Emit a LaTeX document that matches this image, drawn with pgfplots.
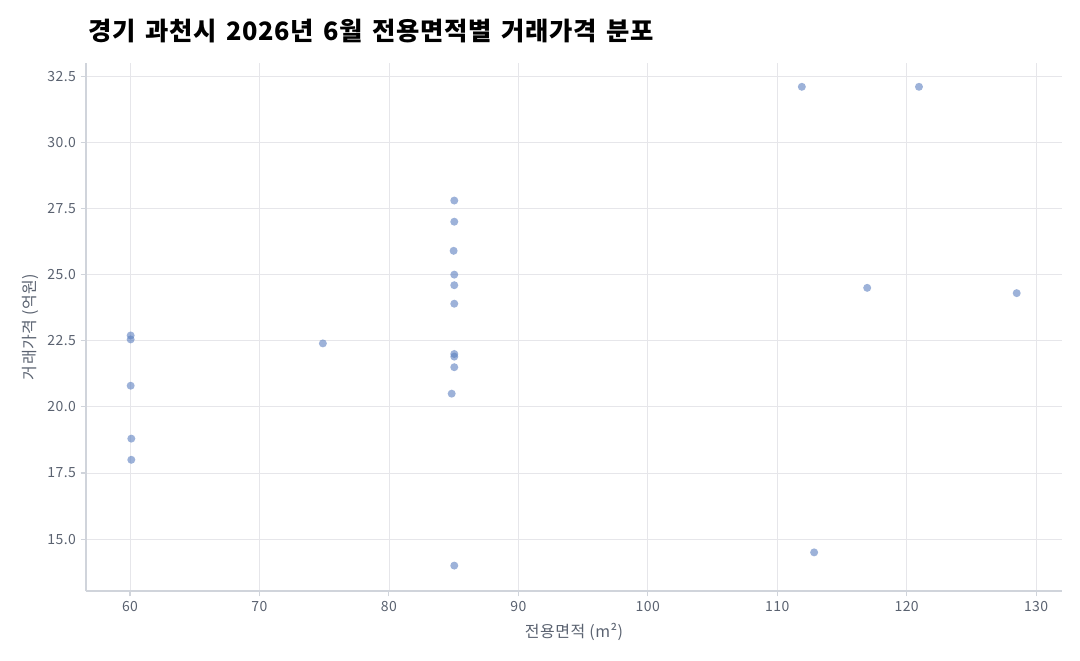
\documentclass[border=0pt]{standalone}
\usepackage{fontspec}
\setmainfont{Noto Sans CJK KR}
\newfontfamily\titlefont[LetterSpace=2,WordSpace=1.6]{Noto Sans CJK KR}
\usepackage{pgfplots}
\pgfplotsset{compat=1.18}

\definecolor{ptblue}{HTML}{5B7FBF}
\definecolor{gridc}{HTML}{E6E6EA}
\definecolor{axisc}{HTML}{D0D4DB}
\definecolor{labc}{HTML}{5A6270}

\begin{document}
\begin{tikzpicture}
\path[use as bounding box] (-64.5pt,-51.75pt) rectangle (745.5pt,443.25pt);
\begin{axis}[
    at={(0,0)}, anchor=south west,
    scale only axis,
    width=732pt, height=396pt,
    xmin=56.6, xmax=132.0,
    ymin=13.04, ymax=33.0,
    xtick={60,70,...,130},
    ytick={15,17.5,...,32.5},
    yticklabel style={/pgf/number format/.cd, fixed, fixed zerofill, precision=1},
    /pgf/number format/assume math mode=true,
    axis x line*=bottom, axis y line*=left,
    axis line style={axisc, line width=0.8pt, -},
    tick align=outside,
    major tick length=4pt,
    tick style={axisc, line width=0.8pt},
    grid=major,
    grid style={gridc, line width=0.6pt},
    ticklabel style={font=\fontsize{10.5}{12}\selectfont\addfontfeature{LetterSpace=3}, text=labc},
    xlabel={전용면적 (m²)},
    ylabel={거래가격 (억원)},
    label style={font=\fontsize{12}{14}\selectfont\addfontfeature{LetterSpace=3}, text=labc},
    xlabel style={at={(axis description cs:0.5,-0.078)}, anchor=center},
    ylabel style={at={(axis description cs:-0.0574,0.5)}, anchor=center},
]
\addplot[only marks, mark=*, mark size=3pt, color=ptblue,
    mark options={fill=ptblue, draw opacity=0, fill opacity=0.6}]
coordinates {
(60.05,22.7) (60.05,22.55) (60.05,20.8) (60.1,18.8) (60.1,18.0)
(74.9,22.4)
(85.05,27.8) (85.05,27.0) (85.0,25.9) (85.05,25.0) (85.05,24.6) (85.05,23.9)
(85.05,22.0) (85.05,21.9) (85.05,21.5) (84.85,20.5) (85.05,14.0)
(111.9,32.1) (120.95,32.1) (116.95,24.5) (128.5,24.3) (112.85,14.5)
};
\end{axis}
\node[anchor=base west, inner sep=0pt, font=\fontsize{19}{22}\selectfont\titlefont\bfseries]
  at (1.5pt,413pt) {경기 과천시 2026년 6월 전용면적별 거래가격 분포};
\end{tikzpicture}
\end{document}
